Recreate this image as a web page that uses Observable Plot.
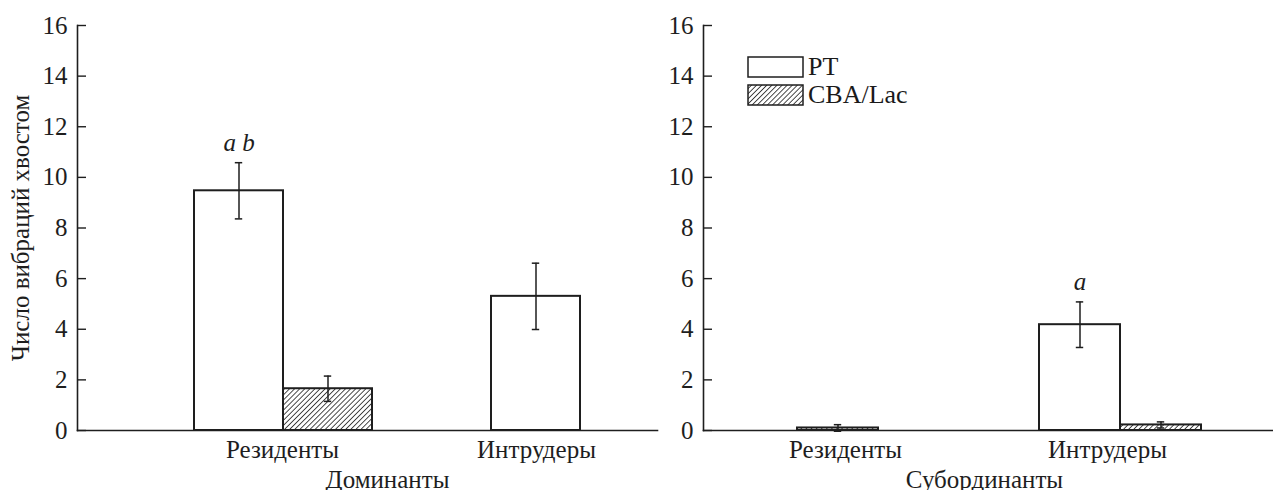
<!DOCTYPE html>
<html>
<head>
<meta charset="utf-8">
<script src="https://cdn.jsdelivr.net/npm/d3@7"></script>
<script src="https://cdn.jsdelivr.net/npm/@observablehq/plot@0.6"></script>
<style>
  html, body { margin: 0; padding: 0; background: #fff; }
  #chart { position: relative; width: 1273px; height: 490px; font-family: "Liberation Serif", serif; color: #1a1a1a; }
  #chart .layer { position: absolute; left: 0; top: 0; }
  #legend { position: absolute; left: 747px; top: 53px; font-family: "Liberation Serif", serif; font-size: 26px; line-height: 24px; }
  #legend .item { display: flex; align-items: center; height: 28px; }
  #legend svg { display: block; margin-right: 3px; }
</style>
</head>
<body>
<svg width="0" height="0" style="position:absolute">
  <defs>
    <pattern id="hatch" patternUnits="userSpaceOnUse" width="3.6" height="3.6" patternTransform="rotate(45)">
      <rect width="3.6" height="3.6" fill="white"></rect>
      <line x1="0" y1="0" x2="0" y2="3.6" stroke="#111" stroke-width="1.5"></line>
    </pattern>
  </defs>
</svg>
<div id="chart"></div>
<script>
// ---- data ----
const series = ["PT", "CBA/Lac"];
const groups = ["Резиденты", "Интрудеры"];
const panels = ["Доминанты", "Субординанты"];
const yLabel = "Число вибраций хвостом";
const yTicks = [0, 2, 4, 6, 8, 10, 12, 14, 16];
// order: Резиденты PT, Резиденты CBA/Lac, Интрудеры PT, Интрудеры CBA/Lac
const domMeans   = [9.47, 1.65, 5.30, 0];
const domErrors  = [1.11, 0.50, 1.31, 0];
const domLetters = ["a b", "", "", ""];
const subMeans   = [0, 0.10, 4.18, 0.22];
const subErrors  = [0, 0.13, 0.90, 0.12];
const subLetters = ["", "", "a", ""];

function rows(means, errors, letters) {
  const out = [];
  groups.forEach((g, i) => series.forEach((s, j) => {
    const k = i * series.length + j;
    out.push({group: g, series: s, value: means[k], err: errors[k], letter: letters[k]});
  }));
  return out;
}

const W = 1273, H = 490;
const FONT = "Liberation Serif, serif";
const FS = 25;
const common = {
  width: W, height: H, marginTop: 25, marginBottom: 60,
  style: {background: "transparent", overflow: "visible", fontFamily: FONT, fontSize: FS + "px", color: "#1a1a1a"}
};
const ink = "#1e1e1e";

function barsPlot(data, fxRange, fxPadding, capInset) {
  const shown = data.filter(d => d.value > 0);
  const withErr = shown.filter(d => d.err > 0);
  const fxo = {fx: "group", x: "series"};
  return Plot.plot({
    ...common,
    marginLeft: 0, marginRight: 0,
    y: {domain: [0, 16], axis: null},
    fx: {domain: groups, range: fxRange, paddingInner: fxPadding, paddingOuter: 0, axis: null},
    x: {domain: series, padding: 0, axis: null},
    marks: [
      Plot.barY(shown.filter(d => d.series === series[0]), {...fxo, y: "value", fill: "white", stroke: ink, strokeWidth: 2}),
      Plot.barY(shown.filter(d => d.series === series[1]), {...fxo, y: "value", fill: "url(#hatch)", stroke: ink, strokeWidth: 2}),
      Plot.ruleX(withErr, {...fxo, y1: d => d.value - d.err, y2: d => d.value + d.err, stroke: ink, strokeWidth: 1.5}),
      Plot.tickY(withErr, {...fxo, y: d => d.value + d.err, insetLeft: capInset, insetRight: capInset, stroke: ink, strokeWidth: 1.5}),
      Plot.tickY(withErr, {...fxo, y: d => d.value - d.err, insetLeft: capInset, insetRight: capInset, stroke: ink, strokeWidth: 1.5}),
      Plot.text(shown.filter(d => d.letter), {...fxo, y: d => d.value + d.err, text: "letter", dy: -12, lineAnchor: "bottom",
        fontStyle: "italic", fontSize: 25, fontFamily: FONT, fill: ink})
    ]
  });
}

function axesPlot(marginLeft, marginRight, labelRange, panelName, panelDx, withYLabel) {
  return Plot.plot({
    ...common,
    marginLeft, marginRight,
    y: {domain: [0, 16], axis: null},
    x: {type: "point", domain: groups, range: labelRange, padding: 0, axis: null},
    marks: [
      Plot.frame({anchor: "left", stroke: ink, strokeWidth: 1.6}),
      Plot.frame({anchor: "bottom", stroke: ink, strokeWidth: 1.6}),
      Plot.axisY(yTicks, {tickSize: -9, tickPadding: 19, stroke: ink, strokeWidth: 1.4, fill: ink,
        fontSize: FS, fontFamily: FONT, label: null}),
      Plot.axisX({tickSize: 0, tickPadding: 10, fill: ink, fontSize: FS, fontFamily: FONT, label: null}),
      Plot.text([panelName], {frameAnchor: "bottom", dx: panelDx, dy: 57, lineAnchor: "bottom", textAnchor: "middle",
        fontSize: FS, fontFamily: FONT, fill: ink}),
      withYLabel ? Plot.text([yLabel], {frameAnchor: "left", dx: -57, rotate: -90, lineAnchor: "middle", textAnchor: "middle",
        fontSize: FS, fontFamily: FONT, fill: ink}) : null
    ]
  });
}

const chart = document.getElementById("chart");
function add(el) { el.classList.add("layer"); chart.appendChild(el); }

add(axesPlot(77, W - 657, [282, 536], panels[0], 20, true));
add(barsPlot(rows(domMeans, domErrors, domLetters), [193, 670], 0.399, 40.8));
add(axesPlot(703, 0, [845, 1107], panels[1], -4, false));
add(barsPlot(rows(subMeans, subErrors, subLetters), [715, 1202], 0.494, 36.8));

// legend
const legend = document.createElement("div");
legend.id = "legend";
series.forEach((s, i) => {
  const item = document.createElement("div");
  item.className = "item";
  item.innerHTML = `<svg width="58" height="23"><rect x="1" y="1" width="55" height="20" fill="${i === 0 ? "white" : "url(#hatch)"}" stroke="${ink}" stroke-width="1.5"></rect></svg><span>${s}</span>`;
  legend.appendChild(item);
});
chart.appendChild(legend);
</script>
</body>
</html>
